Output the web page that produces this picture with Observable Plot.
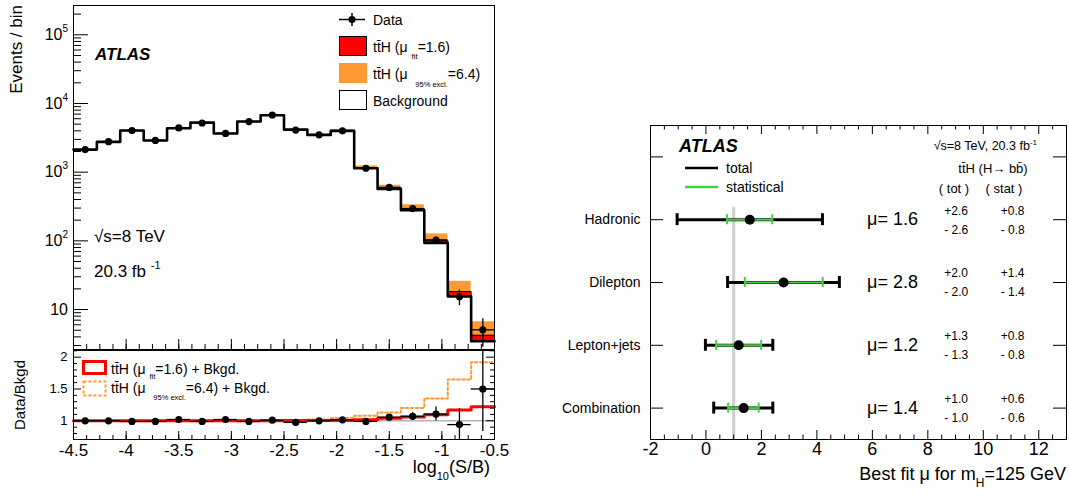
<!DOCTYPE html>
<html><head><meta charset="utf-8">
<script src="https://cdn.jsdelivr.net/npm/d3@7"></script>
<script src="https://cdn.jsdelivr.net/npm/@observablehq/plot@0.6"></script>
<style>
body{margin:0;background:#fff;}
#root{position:relative;width:1069px;height:499px;overflow:hidden;background:#fff;font-family:"Liberation Sans",Arial,sans-serif;}
</style></head><body><div id="root"></div>
<script>
// ---------- data (left: log10(S/B) distribution) ----------
const binEdges = [-4.5,-4.278,-4.056,-3.833,-3.611,-3.389,-3.167,-2.944,-2.722,-2.5,-2.278,-2.056,-1.833,-1.611,-1.389,-1.167,-0.944,-0.722,-0.5];
const background = [2130,2760,4040,2885,4350,5270,3650,5460,6730,4170,3490,3990,1140,571,279,93.5,15.6,3.46];
const dataCounts = [2130,2780,4040,2900,4400,5200,3670,5460,6800,4100,3500,4000,1140,600,295,103,15.3,5.07];
const dataErr    = [46,53,64,54,66,72,61,74,82,64,59,63,34,24,17,10,3.9,2.25];
const ratioFit   = [1.0,1.0,1.0,1.0,1.0,1.0,1.0,1.0,1.002,1.003,1.004,1.006,1.016,1.04,1.06,1.094,1.17,1.22];
const ratioExcl  = [1.0,1.0,1.0,1.0,1.0,1.0,1.0,1.002,1.005,1.01,1.02,1.045,1.08,1.13,1.2,1.35,1.65,1.92];
const dataRatio  = [1.0,1.0,0.99,0.99,1.02,0.99,1.02,0.99,1.01,0.975,1.0,1.015,0.99,1.057,1.07,1.105,0.94,1.50];
const ratioErr   = [0.022,0.019,0.016,0.019,0.015,0.014,0.017,0.014,0.012,0.015,0.017,0.016,0.03,0.042,0.06,0.11,0.25,0.67];
const xTickLabels = [-4.5,-4,-3.5,-3,-2.5,-2,-1.5,-1,-0.5];
const yLogLabels = [10,100,1000,10000,100000];
const yRatioLabels = [1,1.5,2];

// ---------- data (right: best-fit mu) ----------
const channels = ["Hadronic","Dilepton","Lepton+jets","Combination"];
const muBest  = [1.58,2.8,1.18,1.36];
const totLo   = [-1.04,0.78,-0.02,0.28];
const totHi   = [4.2,4.81,2.41,2.41];
const statLo  = [0.76,1.40,0.37,0.80];
const statHi  = [2.39,4.21,1.99,1.90];
const muText  = ["1.6","2.8","1.2","1.4"];
const totUp   = ["+2.6","+2.0","+1.3","+1.0"];
const totDn   = ["- 2.6","- 2.0","- 1.3","- 1.0"];
const statUp  = ["+0.8","+1.4","+0.8","+0.6"];
const statDn  = ["- 0.8","- 1.4","- 0.8","- 0.6"];
const muTickLabels = [-2,0,2,4,6,8,10,12];

// ---------- helpers ----------
const FONT = '"Liberation Sans", Arial, sans-serif';
const ORANGE = "#ff9933", RED = "#ff0000", GREEN = "#44d044";
const root = document.getElementById("root");
function place(svg, left, top){ svg.style.position="absolute"; svg.style.left=left+"px"; svg.style.top=top+"px"; root.appendChild(svg); return svg; }
function rich(svg, x, y, parts, o={}) {
  const size = o.size || 14;
  const t = d3.select(svg).append("text")
    .attr("font-size", size).attr("font-family", FONT)
    .attr("text-anchor", o.anchor || "start")
    .attr("font-weight", o.weight || "normal").attr("font-style", o.style || "normal")
    .attr("fill", "#000");
  if (o.rotate) t.attr("transform", `translate(${x},${y}) rotate(${o.rotate})`);
  else t.attr("x", x).attr("y", y);
  let cur = 0;
  for (const p of parts) {
    const [s, kind, sz, off] = Array.isArray(p) ? p : [p, ""];
    let target = 0, fs = size;
    if (kind === "sub") { fs = sz || size*0.6; target = off ?? size*0.45; }
    if (kind === "sup") { fs = sz || size*0.6; target = off ?? -size*0.5; }
    t.append("tspan").attr("font-size", fs).attr("dy", target - cur).text(s);
    cur = target;
  }
  return t;
}
const TTH = "tt\u0304H";

// ---------- table ----------
const bins = background.map((b,i) => ({
  x1: binEdges[i], x2: binEdges[i+1], xc: (binEdges[i]+binEdges[i+1])/2,
  bkg: b, data: dataCounts[i], err: dataErr[i],
  fitTop: b*ratioFit[i], exclTop: b*ratioExcl[i],
  rFit: ratioFit[i], rExcl: ratioExcl[i], rData: dataRatio[i], rErr: ratioErr[i]
}));
const steps = key => bins.flatMap(d => [{x:d.x1, y:d[key]}, {x:d.x2, y:d[key]}]);

// ---------- top panel ----------
const W1 = 520, H1 = 350, mL = 73, mR = 26, mT1 = 5, mB1 = 1;
const iw = W1 - mL - mR, ih1 = H1 - mT1 - mB1;
const logDomain = [2.62, 2.67e5];
const logMinor = d3.scaleLog().domain(logDomain).ticks().filter(v => !yLogLabels.includes(v) && v >= logDomain[0] && v <= logDomain[1]);
const xMinor = d3.range(-4.5, -0.49, 0.125);

const p1 = Plot.plot({
  width: W1, height: H1, marginLeft: mL, marginRight: mR, marginTop: mT1, marginBottom: mB1,
  style: {fontFamily: FONT, background: "none", overflow: "visible"},
  x: {domain: [-4.5, -0.5], axis: null},
  y: {type: "log", domain: logDomain, axis: null},
  marks: [
    Plot.rect(bins, {x1: "x1", x2: "x2", y1: "bkg", y2: "exclTop", fill: ORANGE}),
    Plot.rect(bins, {x1: "x1", x2: "x2", y1: "bkg", y2: "fitTop", fill: RED}),
    Plot.line(steps("fitTop"), {x: "x", y: "y", stroke: "#000", strokeWidth: 1}),
    Plot.line(steps("bkg"), {x: "x", y: "y", stroke: "#000", strokeWidth: 2.6}),
    Plot.ruleX(bins, {x: "xc", y1: d => d.data - d.err, y2: d => d.data + d.err, stroke: "#000", strokeWidth: 1.3, clip: true}),
    Plot.ruleY(bins, {y: "data", x1: "x1", x2: "x2", stroke: "#000", strokeWidth: 1.3}),
    Plot.dot(bins, {x: "xc", y: "data", r: 3.6, fill: "#000", stroke: "none"}),
    Plot.ruleY(yLogLabels, {insetRight: iw - 15, stroke: "#000"}),
    Plot.ruleY(logMinor, {insetRight: iw - 8, stroke: "#000"}),
    Plot.ruleX(xTickLabels, {insetTop: ih1 - 10, stroke: "#000"}),
    Plot.ruleX(xMinor, {insetTop: ih1 - 5, stroke: "#000"}),
    Plot.frame({stroke: "#000", strokeWidth: 1})
  ]
});
place(p1, 0, 0);
const ys1 = p1.scale("y");
const supDigits = {1:"", 2:"2", 3:"3", 4:"4", 5:"5"};
for (const v of yLogLabels) {
  const e = Math.round(Math.log10(v));
  const yy = ys1.apply(v);
  if (e === 1) rich(p1, 68, yy + 5.7, ["10"], {size: 16, anchor: "end"});
  else rich(p1, 68, yy + 5.7, ["10", [supDigits[e], "sup", 10, -8]], {size: 16, anchor: "end"});
}
rich(p1, 21.5, 5, ["Events / bin"], {size: 17, anchor: "end", rotate: -90});
rich(p1, 95, 60, ["ATLAS"], {size: 17, weight: "bold", style: "italic"});
rich(p1, 94, 242, ["\u221As=8 TeV"], {size: 17});
rich(p1, 94, 277, ["20.3 fb ", ["-1", "sup", 11, -8]], {size: 17});
// legend
{
  const g = d3.select(p1).append("g");
  g.append("line").attr("x1", 339).attr("x2", 365).attr("y1", 19.5).attr("y2", 19.5).attr("stroke", "#000").attr("stroke-width", 1.5);
  g.append("line").attr("x1", 352).attr("x2", 352).attr("y1", 13).attr("y2", 26).attr("stroke", "#000").attr("stroke-width", 1.5);
  g.append("circle").attr("cx", 352).attr("cy", 19.5).attr("r", 3.6).attr("fill", "#000");
  g.append("rect").attr("x", 339.5).attr("y", 36.5).attr("width", 27).attr("height", 19).attr("fill", RED).attr("stroke", "#000");
  g.append("rect").attr("x", 339).attr("y", 63).attr("width", 28).attr("height", 20).attr("fill", ORANGE);
  g.append("rect").attr("x", 339.5).attr("y", 90.5).attr("width", 27).attr("height", 19).attr("fill", "#fff").attr("stroke", "#000");
  rich(p1, 373, 25, ["Data"], {size: 14});
  rich(p1, 373, 52, [TTH + " (\u03BC ", ["fit", "sub", 8, 6.5], "=1.6)"], {size: 14});
  rich(p1, 373, 79, [TTH + " (\u03BC  ", ["95% excl.", "sub", 7.5, 7.5], "=6.4)"], {size: 14});
  rich(p1, 373, 106, ["Background"], {size: 14});
}

// ---------- ratio panel ----------
const H2 = 160, mT2 = 10, mB2 = 61, ih2 = H2 - mT2 - mB2;
const ratioMinor = d3.range(8, 22, 1).map(v => v/10).filter(v => !yRatioLabels.includes(v) && v <= 2.1);
const p2 = Plot.plot({
  width: W1, height: H2, marginLeft: mL, marginRight: mR, marginTop: mT2, marginBottom: mB2,
  style: {fontFamily: FONT, background: "none", overflow: "visible"},
  x: {domain: [-4.5, -0.5]},
  y: {domain: [0.706, 2.105]},
  marks: [
    Plot.ruleY([1], {stroke: "#b4b4b4", strokeWidth: 1.5}),
    Plot.line(steps("rExcl"), {x: "x", y: "y", stroke: ORANGE, strokeWidth: 2, strokeDasharray: "2.5,2.5"}),
    Plot.line(steps("rFit"), {x: "x", y: "y", stroke: RED, strokeWidth: 3}),
    Plot.ruleX(bins, {x: "xc", y1: d => d.rData - d.rErr, y2: d => d.rData + d.rErr, stroke: "#000", strokeWidth: 1.3, clip: true}),
    Plot.ruleY(bins, {y: "rData", x1: "x1", x2: "x2", stroke: "#000", strokeWidth: 1.3}),
    Plot.dot(bins, {x: "xc", y: "rData", r: 3.6, fill: "#000", stroke: "none"}),
    Plot.ruleY(yRatioLabels, {insetRight: iw - 8, stroke: "#000"}),
    Plot.ruleY(ratioMinor, {insetRight: iw - 4, stroke: "#000"}),
    Plot.ruleY(yRatioLabels, {insetLeft: iw - 8, stroke: "#000"}),
    Plot.ruleY(ratioMinor, {insetLeft: iw - 4, stroke: "#000"}),
    Plot.ruleX(xTickLabels, {insetTop: ih2 - 8, stroke: "#000"}),
    Plot.ruleX(xMinor, {insetTop: ih2 - 4, stroke: "#000"}),
    Plot.axisX(xTickLabels, {tickSize: 0, tickPadding: 4, fontSize: 17, label: null, tickFormat: d => String(d)}),
    Plot.axisY(yRatioLabels, {tickSize: 0, tickPadding: 6, fontSize: 13, label: null, tickFormat: d => String(d)}),
    Plot.frame({stroke: "#000", strokeWidth: 1})
  ]
});
place(p2, 0, 340);
{
  const g = d3.select(p2).append("g");
  g.append("rect").attr("x", 83.5).attr("y", 21.5).attr("width", 22).attr("height", 12).attr("fill", "none").attr("stroke", RED).attr("stroke-width", 3);
  g.append("rect").attr("x", 83.5).attr("y", 41.5).attr("width", 22).attr("height", 14).attr("fill", "none").attr("stroke", ORANGE).attr("stroke-width", 2).attr("stroke-dasharray", "3,2");
  rich(p2, 111, 33.5, [TTH + " (\u03BC ", ["fit", "sub", 7.5, 5.5], "=1.6) + Bkgd."], {size: 14});
  rich(p2, 111, 53, [TTH + " (\u03BC  ", ["95% excl.", "sub", 7.5, 7], "=6.4) + Bkgd."], {size: 14});
  rich(p2, 490, 133, ["log", ["10", "sub", 11, 7], "(S/B)"], {size: 18, anchor: "end"});
  rich(p2, 25, 20, ["Data/Bkgd"], {size: 15, anchor: "end", rotate: -90});
}

// ---------- right panel ----------
const W3 = 529, H3 = 399, mL3 = 110, mR3 = 3, mT3 = 25, mB3 = 60;
const iw3 = W3 - mL3 - mR3, ih3 = H3 - mT3 - mB3;
const rows = channels.map((c,i) => ({i, c, mu: muBest[i], totLo: totLo[i], totHi: totHi[i], statLo: statLo[i], statHi: statHi[i],
  muText: "\u03BC= " + muText[i], totUp: totUp[i], totDn: totDn[i], statUp: statUp[i], statDn: statDn[i]}));
const muMinor = d3.range(-2, 13.01, 0.5).filter(v => !muTickLabels.includes(v));
const p3 = Plot.plot({
  width: W3, height: H3, marginLeft: mL3, marginRight: mR3, marginTop: mT3, marginBottom: mB3,
  style: {fontFamily: FONT, background: "none", overflow: "visible"},
  x: {domain: [-2, 13], label: null},
  y: {domain: [-1.5, 3.5], reverse: true, label: null},
  marks: [
    Plot.ruleX([1], {y1: -0.2, y2: 3.5, stroke: "#cfcfcf", strokeWidth: 3}),
    Plot.ruleY(rows, {y: "i", x1: "totLo", x2: "totHi", stroke: "#000", strokeWidth: 3}),
    Plot.ruleX(rows, {x: "totLo", y1: d => d.i - 0.095, y2: d => d.i + 0.095, stroke: "#000", strokeWidth: 3}),
    Plot.ruleX(rows, {x: "totHi", y1: d => d.i - 0.095, y2: d => d.i + 0.095, stroke: "#000", strokeWidth: 3}),
    Plot.ruleY(rows, {y: "i", x1: "statLo", x2: "statHi", stroke: GREEN, strokeWidth: 2}),
    Plot.ruleX(rows, {x: "statLo", y1: d => d.i - 0.08, y2: d => d.i + 0.08, stroke: GREEN, strokeWidth: 2}),
    Plot.ruleX(rows, {x: "statHi", y1: d => d.i - 0.08, y2: d => d.i + 0.08, stroke: GREEN, strokeWidth: 2}),
    Plot.dot(rows, {x: "mu", y: "i", r: 5, fill: "#000", stroke: "none"}),
    Plot.text(rows, {x: () => 5.81, y: "i", text: "muText", textAnchor: "start", fontSize: 18}),
    Plot.text(rows, {x: () => 8.59, y: "i", dy: -9, text: "totUp", textAnchor: "start", fontSize: 12}),
    Plot.text(rows, {x: () => 8.59, y: "i", dy: 10, text: "totDn", textAnchor: "start", fontSize: 12}),
    Plot.text(rows, {x: () => 10.63, y: "i", dy: -9, text: "statUp", textAnchor: "start", fontSize: 12}),
    Plot.text(rows, {x: () => 10.63, y: "i", dy: 10, text: "statDn", textAnchor: "start", fontSize: 12}),
    Plot.ruleY([-1,0,1,2,3], {insetRight: iw3 - 13, stroke: "#000"}),
    Plot.ruleY([-1,0,1,2,3], {insetLeft: iw3 - 13, stroke: "#000"}),
    Plot.ruleX(muTickLabels, {insetTop: ih3 - 9, stroke: "#000"}),
    Plot.ruleX(muMinor, {insetTop: ih3 - 4.5, stroke: "#000"}),
    Plot.ruleX(muTickLabels, {insetBottom: ih3 - 9, stroke: "#000"}),
    Plot.ruleX(muMinor, {insetBottom: ih3 - 4.5, stroke: "#000"}),
    Plot.axisX(muTickLabels, {tickSize: 0, tickPadding: 3, fontSize: 18, label: null, tickFormat: d => String(d)}),
    Plot.axisY([0,1,2,3], {tickSize: 0, tickPadding: 10, fontSize: 14, label: null, tickFormat: i => channels[i]}),
    Plot.frame({stroke: "#000", strokeWidth: 1})
  ]
});
place(p3, 540, 100);
{
  const g = d3.select(p3).append("g");
  rich(p3, 139, 51.7, ["ATLAS"], {size: 18, weight: "bold", style: "italic"});
  g.append("line").attr("x1", 145).attr("x2", 178).attr("y1", 68).attr("y2", 68).attr("stroke", "#000").attr("stroke-width", 2.5);
  g.append("line").attr("x1", 145).attr("x2", 178).attr("y1", 87).attr("y2", 87).attr("stroke", GREEN).attr("stroke-width", 2.5);
  rich(p3, 186, 72.5, ["total"], {size: 14});
  rich(p3, 186, 91.5, ["statistical"], {size: 14});
  rich(p3, 497, 50, ["\u221As=8 TeV, 20.3 fb", ["-1", "sup", 8, -5]], {size: 12.5, anchor: "end"});
  rich(p3, 453, 73, ["tt\u0304H (H\u2192 bb\u0304)"], {size: 13, anchor: "middle"});
  rich(p3, 414, 93, ["( tot )"], {size: 13, anchor: "middle"});
  rich(p3, 464, 93, ["( stat )"], {size: 13, anchor: "middle"});
  rich(p3, 526, 380, ["Best fit \u03BC for m", ["H", "sub", 12, 7], "=125 GeV"], {size: 18, anchor: "end"});
}
</script></body></html>
